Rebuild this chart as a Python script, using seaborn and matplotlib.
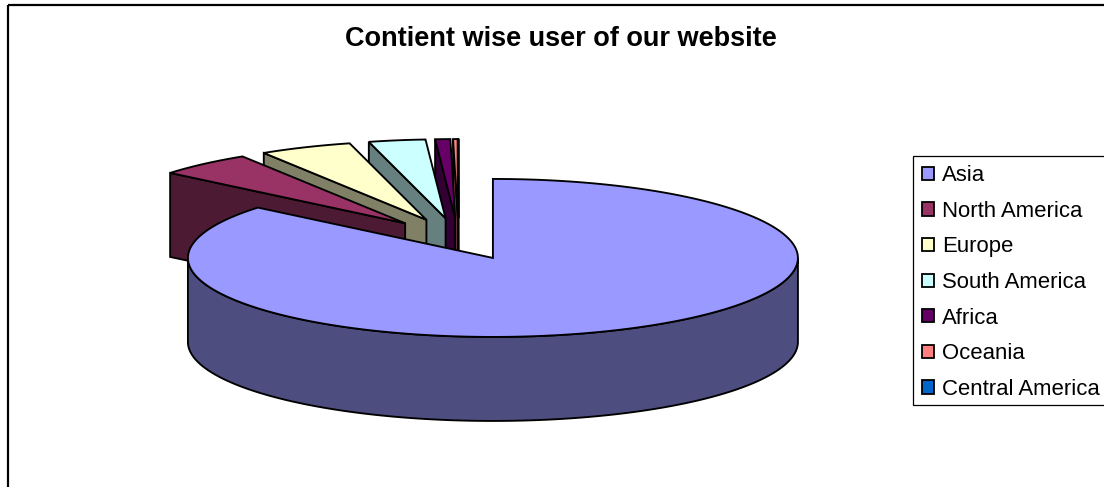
import numpy as np
import seaborn as sns
import matplotlib.pyplot as plt
from matplotlib.patches import Patch, Rectangle

continents = ["Asia", "North America", "Europe", "South America", "Africa", "Oceania", "Central America"]
shares = [86.0, 5.05, 4.9, 3.0, 0.8, 0.24, 0.01]
slice_colors = ["#9999FF", "#993366", "#FFFFCC", "#CCFFFF", "#660066", "#FF8080", "#0066CC"]

# pie geometry in pixels
CX, CY = 458.5, 239
RX, RY = 305, 79
DEPTH = 84
EXPLODE = 0.265
LW = 1.35

sns.set_theme(style="white")
plt.rcParams['font.family'] = ['Liberation Sans', 'DejaVu Sans']
palette = sns.color_palette(slice_colors)


def project(t, ox, oy, radius=1.0):
    # t in degrees, clockwise from 12 o'clock
    rad = np.radians(t)
    return ox + radius * RX * np.sin(rad), oy - radius * RY * np.cos(rad)


def draw_slice(ax, t1, t2, color):
    mid = (t1 + t2) / 2
    ox, oy = project(mid, CX, CY, EXPLODE)
    side = tuple(c * 0.5 for c in color)

    # cut walls that face the viewer
    for t, visible in ((t1, 180 < t1 < 360), (t2, 0 < t2 < 180)):
        if visible:
            ex, ey = project(t, ox, oy)
            ax.fill([ox, ex, ex, ox], [oy, ey, ey + DEPTH, oy + DEPTH],
                    facecolor=side, edgecolor="black", lw=LW, joinstyle="miter")

    # outer rim, front half only
    lo, hi = max(t1, 90), min(t2, 270)
    if lo < hi:
        arc = np.linspace(lo, hi, 200)
        xs, ys = project(arc, ox, oy)
        ax.fill(np.r_[xs, xs[::-1]], np.r_[ys, ys[::-1] + DEPTH],
                facecolor=side, edgecolor="black", lw=LW)

    # top face
    arc = np.linspace(t1, t2, 300)
    xs, ys = project(arc, ox, oy)
    ax.fill(np.r_[ox, xs], np.r_[oy, ys], facecolor=color,
            edgecolor="black", lw=LW, joinstyle="miter")


fig = plt.figure(figsize=(11.04, 4.87), dpi=100)
ax = fig.add_axes([0, 0, 1, 1])
ax.set_xlim(0, 1104)
ax.set_ylim(487, 0)
ax.axis("off")

# chart area border, runs off the right and bottom of the picture
ax.add_patch(Rectangle((8, 5), 1300, 700, fill=False, edgecolor="black", lw=1.6))

edges = np.r_[0, np.cumsum(shares)] / np.sum(shares) * 360
# back slices first, the big one goes on top
for i in range(len(shares) - 1, -1, -1):
    draw_slice(ax, edges[i], edges[i + 1], palette[i])

ax.text(560.5, 39, "Contient wise user of our website", ha="center", va="center",
        fontsize=19.5, fontweight="bold", color="black")

# legend box is drawn by hand, it runs past the right edge
ax.add_patch(Rectangle((913, 156), 300, 249, facecolor="white", edgecolor="black", lw=0.9))
handles = [Patch(facecolor=c, edgecolor="black", lw=1.3, label=n)
           for c, n in zip(palette, continents)]
leg = ax.legend(handles=handles, loc="upper left", bbox_to_anchor=(913 / 1104, 1 - 156 / 487),
                bbox_transform=fig.transFigure, borderaxespad=0, fontsize=15.9,
                frameon=False, handlelength=0.55, handleheight=0.55, handletextpad=0.36,
                labelspacing=0.66, borderpad=0.42, labelcolor="black")

fig.savefig("out.png", dpi=100)
